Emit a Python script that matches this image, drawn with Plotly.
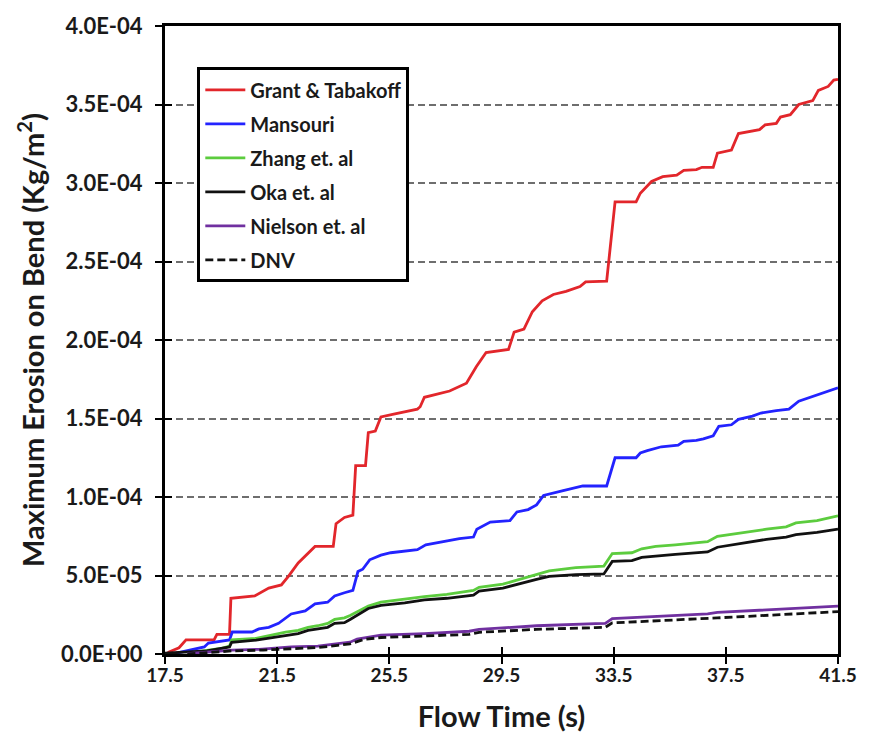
import numpy as np
import plotly.graph_objects as go

# Flow time (s) and maximum erosion on the bend (units of 1e-5 kg/m^2)
grant_t = [17.6, 18.0, 18.25, 19.25, 19.35, 19.8, 19.85, 20.7, 21.2, 21.65, 21.9, 22.25, 22.85, 23.5,
           23.6, 23.9, 24.2, 24.3, 24.65, 24.75, 25.0, 25.2, 25.7, 26.5, 26.6, 26.75, 27.65, 28.25,
           28.6, 28.95, 29.75, 29.95, 30.3, 30.6, 30.95, 31.35, 31.8, 32.3, 32.5, 33.25, 33.55, 34.3,
           34.45, 34.65, 34.85, 35.25, 35.75, 36.0, 36.45, 36.65, 37.05, 37.2, 37.7, 37.95, 38.7,
           38.9, 39.3, 39.45, 39.8, 40.1, 40.6, 40.8, 41.15, 41.35, 41.5]
grant_v = [0.1, 0.4, 0.9, 0.9, 1.25, 1.25, 3.55, 3.7, 4.2, 4.4, 4.95, 5.8, 6.85, 6.85,
           8.3, 8.7, 8.85, 12.0, 12.0, 14.1, 14.2, 15.1, 15.3, 15.6, 15.75, 16.35, 16.75, 17.25,
           18.3, 19.2, 19.4, 20.5, 20.7, 21.8, 22.5, 22.9, 23.1, 23.4, 23.7, 23.75, 28.8, 28.8,
           29.35, 29.7, 30.1, 30.4, 30.5, 30.8, 30.85, 31.0, 31.0, 31.9, 32.1, 33.15, 33.4,
           33.7, 33.8, 34.2, 34.35, 35.0, 35.25, 35.9, 36.15, 36.55, 36.6]

mansouri_t = [17.9, 18.9, 19.05, 19.8, 19.9, 20.6, 20.85, 21.2, 21.55, 21.8, 22.0, 22.5, 22.85, 23.3,
              23.55, 23.9, 24.2, 24.38, 24.55, 24.8, 25.2, 25.55, 26.5, 26.8, 27.45, 28.0, 28.5,
              28.62, 29.1, 29.8, 30.05, 30.45, 30.75, 31.0, 31.7, 32.4, 33.25, 33.55, 34.3, 34.45,
              34.7, 35.2, 35.8, 36.0, 36.45, 36.7, 37.05, 37.25, 37.7, 37.95, 38.45, 38.75, 39.3,
              39.75, 40.1, 40.6, 41.0, 41.5]
mansouri_v = [0.05, 0.45, 0.7, 0.9, 1.4, 1.4, 1.6, 1.7, 1.95, 2.3, 2.55, 2.75, 3.2, 3.3,
              3.7, 3.9, 4.05, 5.25, 5.4, 6.0, 6.3, 6.45, 6.65, 6.95, 7.15, 7.35, 7.45,
              7.95, 8.4, 8.5, 9.05, 9.2, 9.5, 10.1, 10.4, 10.7, 10.7, 12.5, 12.5, 12.8,
              12.95, 13.2, 13.3, 13.55, 13.6, 13.7, 13.9, 14.5, 14.6, 14.95, 15.15, 15.35, 15.5,
              15.6, 16.1, 16.4, 16.6, 16.95]

zhang_t = [18.3, 19.5, 19.8, 19.88, 20.75, 21.3, 21.8, 22.25, 22.6, 22.95, 23.3, 23.55, 23.9, 24.1,
           24.35, 24.75, 25.2, 26.05, 26.75, 27.55, 28.5, 28.7, 29.55, 30.05, 30.75, 31.2, 32.15,
           33.15, 33.45, 34.15, 34.5, 35.0, 35.7, 36.85, 37.2, 37.8, 38.05, 38.95, 39.65, 40.0,
           40.75, 41.5]
zhang_v = [0.05, 0.35, 0.5, 0.9, 1.0, 1.2, 1.4, 1.5, 1.7, 1.8, 1.95, 2.2, 2.3, 2.45,
           2.7, 3.05, 3.3, 3.5, 3.65, 3.8, 4.05, 4.25, 4.45, 4.7, 5.05, 5.3, 5.5,
           5.6, 6.4, 6.45, 6.7, 6.85, 6.95, 7.15, 7.5, 7.65, 7.75, 7.95, 8.1, 8.35,
           8.5, 8.8]

oka_t = [17.5, 19.0, 19.8, 19.88, 20.75, 21.3, 21.8, 22.25, 22.6, 23.3, 23.55, 23.9, 24.1, 24.35,
         24.75, 25.2, 26.05, 26.75, 27.55, 28.5, 28.7, 29.55, 30.05, 30.75, 31.2, 32.15, 33.15,
         33.45, 34.15, 34.5, 35.7, 36.85, 37.2, 38.05, 38.95, 39.65, 40.0, 40.75, 41.5]
oka_v = [0.05, 0.2, 0.45, 0.75, 0.88, 1.05, 1.2, 1.3, 1.5, 1.7, 1.95, 2.0, 2.2, 2.45,
         2.9, 3.1, 3.25, 3.45, 3.55, 3.75, 4.0, 4.2, 4.45, 4.75, 4.95, 5.05, 5.1,
         5.9, 5.95, 6.15, 6.35, 6.5, 6.8, 7.05, 7.3, 7.45, 7.6, 7.75, 7.95]

nielson_t = [18.3, 19.9, 20.85, 22.0, 22.95, 23.65, 24.1, 24.35, 24.7, 25.2, 26.75, 28.35, 28.7,
             30.0, 30.75, 32.85, 33.2, 33.45, 36.85, 37.2, 41.5]
nielson_v = [0.02, 0.25, 0.3, 0.45, 0.5, 0.65, 0.75, 0.95, 1.07, 1.2, 1.3, 1.45, 1.57,
             1.7, 1.8, 1.94, 1.95, 2.25, 2.55, 2.65, 3.05]

dnv_t = [18.3, 19.9, 21.0, 22.0, 23.0, 23.65, 24.1, 24.6, 25.2, 26.8, 28.35, 28.7, 30.0, 30.75,
         32.85, 33.2, 33.45, 36.85, 37.2, 41.5]
dnv_v = [0.0, 0.2, 0.25, 0.35, 0.42, 0.55, 0.65, 0.93, 1.05, 1.15, 1.25, 1.38, 1.5, 1.57,
         1.68, 1.7, 1.98, 2.25, 2.3, 2.7]

y_tick_vals = [0, 5e-5, 1e-4, 1.5e-4, 2e-4, 2.5e-4, 3e-4, 3.5e-4, 4e-4]
y_tick_text = ["0.0E+00", "5.0E-05", "1.0E-04", "1.5E-04", "2.0E-04",
               "2.5E-04", "3.0E-04", "3.5E-04", "4.0E-04"]
x_tick_vals = [17.5, 21.5, 25.5, 29.5, 33.5, 37.5, 41.5]

SCALE = 1e-5
FONT = "Lato"
INK = "#1a1a1a"

series = [
    ("Grant & Tabakoff", grant_t, grant_v, "#e2262b", "solid"),
    ("Mansouri", mansouri_t, mansouri_v, "#2323ff", "solid"),
    ("Zhang et. al", zhang_t, zhang_v, "#5ccc3e", "solid"),
    ("Oka et. al", oka_t, oka_v, "#111111", "solid"),
    ("Nielson et. al", nielson_t, nielson_v, "#7030a0", "solid"),
    ("DNV", dnv_t, dnv_v, "#111111", "8px,4px"),
]

fig = go.Figure()
for i, (name, t, v, color, dash) in enumerate(series):
    fig.add_trace(go.Scatter(
        x=t, y=np.array(v) * SCALE, mode="lines", name=name,
        legendgroup=f"g{i}",
        line=dict(color=color, width=2.8, dash=dash),
    ))

# overlay axes carry the inner half of the crossing tick marks
fig.add_trace(go.Scatter(x=[], y=[], xaxis="x2", yaxis="y2", showlegend=False))

fig.update_layout(
    width=869, height=743,
    margin=dict(l=165, r=24, t=16, b=89),
    paper_bgcolor="white", plot_bgcolor="white",
    showlegend=True,
    legend=dict(
        x=0.048, y=0.934, xanchor="left", yanchor="top",
        bgcolor="white", bordercolor="black", borderwidth=3,
        font=dict(family=FONT, size=20, color=INK, weight="bold"),
        traceorder="grouped", tracegroupgap=5,
        itemwidth=40,
    ),
    xaxis=dict(
        range=[17.5, 41.5], tickvals=x_tick_vals, tickformat=".1f",
        showgrid=False, zeroline=False,
        showline=True, linecolor="black", linewidth=3, mirror=True,
        ticks="outside", ticklen=7, tickwidth=2, tickcolor="black",
        ticklabelstandoff=-5,
        tickfont=dict(family=FONT, size=19, color=INK, weight="bold"),
        title=dict(text="Flow Time (s)", standoff=22,
                   font=dict(family=FONT, size=29, color=INK, weight="bold")),
    ),
    yaxis=dict(
        range=[0, 4e-4], tickvals=y_tick_vals, ticktext=y_tick_text,
        showgrid=True, gridcolor="#6e6e6e", gridwidth=2, griddash="7px,4px",
        zeroline=False,
        showline=True, linecolor="black", linewidth=3, mirror=True,
        ticks="outside", ticklen=7, tickwidth=2, tickcolor="black",
        ticklabelstandoff=8,
        tickfont=dict(family=FONT, size=22, color=INK, weight="bold"),
        title=dict(text="Maximum Erosion on Bend (Kg/m<sup>2</sup>)", standoff=8,
                   font=dict(family=FONT, size=29, color=INK, weight="bold")),
    ),
    xaxis2=dict(
        overlaying="x", anchor="y2", range=[17.5, 41.5], tickvals=x_tick_vals,
        showticklabels=False, showgrid=False, zeroline=False, showline=False,
        ticks="inside", ticklen=7, tickwidth=2, tickcolor="black",
    ),
    yaxis2=dict(
        overlaying="y", anchor="x2", range=[0, 4e-4], tickvals=y_tick_vals,
        showticklabels=False, showgrid=False, zeroline=False, showline=False,
        ticks="inside", ticklen=7, tickwidth=2, tickcolor="black",
    ),
)

fig.write_html("out.html")
